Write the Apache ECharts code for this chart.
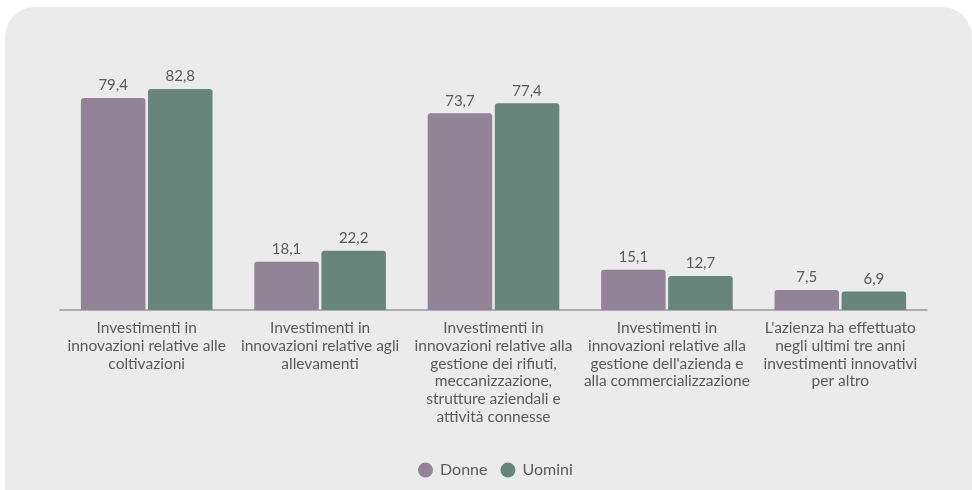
<!DOCTYPE html>
<html>
<head>
<meta charset="utf-8">
<script src="https://cdn.jsdelivr.net/npm/echarts@6/dist/echarts.min.js"></script>
<style>
  html, body { margin: 0; padding: 0; background: #ffffff; }
  #chart { width: 972px; height: 490px; }
</style>
</head>
<body>
<div id="chart"></div>
<script>
// Categories (wrapped as they appear under the axis)
const categories = [
  "Investimenti in\ninnovazioni relative alle\ncoltivazioni",
  "Investimenti in\ninnovazioni relative agli\nallevamenti",
  "Investimenti in\ninnovazioni relative alla\ngestione dei rifiuti,\nmeccanizzazione,\nstrutture aziendali e\nattività connesse",
  "Investimenti in\ninnovazioni relative alla\ngestione dell'azienda e\nalla commercializzazione",
  "L'azienza ha effettuato\nnegli ultimi tre anni\ninvestimenti innovativi\nper altro"
];
const donne = [79.4, 18.1, 73.7, 15.1, 7.5];
const uomini = [82.8, 22.2, 77.4, 12.7, 6.9];

const fmt = v => String(v.value).replace('.', ',');
const chart = echarts.init(document.getElementById('chart'));

const labelStyle = {
  show: true,
  position: 'top',
  distance: 5,
  color: '#5a5a5a',
  fontFamily: 'Lato',
  fontSize: 15,
  formatter: fmt
};

chart.setOption({
  backgroundColor: '#ffffff',
  textStyle: { fontFamily: 'Lato' },
  graphic: [{
    type: 'rect',
    z: -10,
    shape: { x: 5, y: 7, width: 967, height: 520, r: 30 },
    style: { fill: '#ebebeb' }
  }],
  grid: { left: 60, right: 45, top: 43, bottom: 180 },
  xAxis: {
    type: 'category',
    data: categories,
    axisLine: { lineStyle: { color: '#9a9a9a', width: 1.5 } },
    axisTick: { show: false },
    axisLabel: {
      interval: 0,
      color: '#5a5a5a',
      fontFamily: 'Lato',
      fontSize: 15.5,
      lineHeight: 17.8,
      margin: 9
    }
  },
  yAxis: {
    type: 'value',
    min: 0,
    max: 100,
    show: false,
    splitLine: { show: false }
  },
  legend: {
    top: 462,
    left: 418,
    icon: 'circle',
    itemWidth: 15,
    itemHeight: 15,
    itemGap: 13,
    padding: 0,
    textStyle: { color: '#5a5a5a', fontFamily: 'Lato', fontSize: 16, padding: [0, 0, 0, 2] },
    data: ['Donne', 'Uomini']
  },
  series: [
    {
      name: 'Donne',
      type: 'bar',
      data: donne,
      barWidth: 64.5,
      barGap: '4%',
      itemStyle: { color: '#928496', borderRadius: [3, 3, 0, 0] },
      label: labelStyle
    },
    {
      name: 'Uomini',
      type: 'bar',
      data: uomini,
      barWidth: 64.5,
      itemStyle: { color: '#67857a', borderRadius: [3, 3, 0, 0] },
      label: labelStyle
    }
  ]
});
</script>
</body>
</html>
